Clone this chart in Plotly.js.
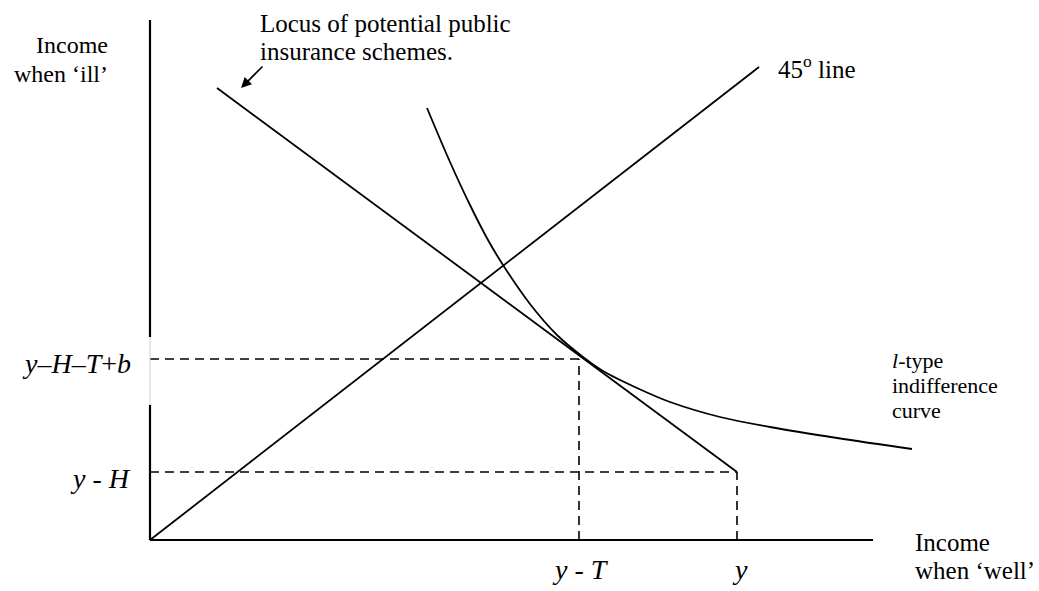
<!DOCTYPE html>
<html>
<head>
<meta charset="utf-8">
<script src="https://cdn.plot.ly/plotly-3.0.1.min.js"></script>
<style>html,body{margin:0;padding:0;background:#fff;}#chart{width:1039px;height:591px;}</style>
</head>
<body>
<div id="chart"></div>
<script>
// Diagram values (income when well on x, income when ill on y)
const yWell = 587;          // y
const yMinusT = 429;        // y - T
const yMinusH = 68;         // y - H
const yHTb = 181;           // y-H-T+b

const locusX = [67, 587];
const locusY = [452, 68];

const line45X = [0, 609];
const line45Y = [0, 473];

const icX = [277, 300, 320, 338, 353, 380, 407, 433, 453, 487, 520, 570, 620, 687, 762];
const icY = [432, 378, 335, 300, 275, 236, 205, 183, 169, 152, 138, 123, 113, 102, 91];

const xAxisX = [0, 723];
const xAxisY = [0, 0];
const yAxisLowX = [0, 0],  yAxisLowY = [0, 135];
const yAxisGapX = [0, 0],  yAxisGapY = [135, 203];
const yAxisHighX = [0, 0], yAxisHighY = [203, 520];

const FONT = "Liberation Serif";
const solid = {color: "#000", width: 1.8};
const dashed = {color: "#000", width: 1.6, dash: "9px,6px"};

function seg(x, y, line) {
  return {x: x, y: y, mode: "lines", type: "scatter", line: line, hoverinfo: "skip", showlegend: false, cliponaxis: false};
}

const traces = [
  seg([0, yMinusT], [yHTb, yHTb], dashed),
  seg([yMinusT, yMinusT], [0, yHTb], dashed),
  seg([0, yWell], [yMinusH, yMinusH], dashed),
  seg([yWell, yWell], [0, yMinusH], dashed),
  seg(xAxisX, xAxisY, {color: "#000", width: 2.2}),
  seg(yAxisLowX, yAxisLowY, {color: "#000", width: 2.2}),
  seg(yAxisGapX, yAxisGapY, {color: "#d0d0d0", width: 1}),
  seg(yAxisHighX, yAxisHighY, {color: "#000", width: 2.2}),
  seg(line45X, line45Y, solid),
  seg(locusX, locusY, solid),
  {x: icX, y: icY, mode: "lines", type: "scatter", line: {color: "#000", width: 1.8, shape: "spline", smoothing: 1}, hoverinfo: "skip", showlegend: false}
];

// page pixel -> paper fraction (plot area: left 145, width 855; bottom 545, height 535)
const px = p => (p - 145) / 855;
const py = p => (545 - p) / 535;

function txt(text, x, y, size, xanchor) {
  return {text: text, x: px(x), y: py(y), xref: "paper", yref: "paper", showarrow: false,
          xanchor: xanchor, yanchor: "middle", font: {family: FONT, size: size, color: "#000"}};
}

const annotations = [
  txt("Income", 110, 45, 24, "right"),
  txt("when \u2018ill\u2019", 110, 74, 24, "right"),
  txt("Locus of potential public", 258, 24, 25, "left"),
  txt("insurance schemes.", 258, 51, 25, "left"),
  txt("45<sup>o</sup> line", 776, 67, 25, "left"),
  txt("<i>y</i>\u2013<i>H</i>\u2013<i>T</i>+<i>b</i>", 133, 364, 28, "right"),
  txt("<i>y</i> - <i>H</i>", 133, 478, 28, "right"),
  txt("<i>y</i> - <i>T</i>", 580, 569, 28, "center"),
  txt("<i>y</i>", 740, 569, 28, "center"),
  txt("Income", 913, 542, 25, "left"),
  txt("when \u2018well\u2019", 913, 570, 25, "left"),
  txt("<i>l</i>-type", 890, 360, 22, "left"),
  txt("indifference", 890, 385, 22, "left"),
  txt("curve", 890, 410, 22, "left"),
  {x: px(241), y: py(88), ax: px(264), ay: py(65), xref: "paper", yref: "paper", axref: "paper", ayref: "paper",
   showarrow: true, arrowhead: 2, arrowsize: 1.3, arrowwidth: 1.6, arrowcolor: "#000", text: ""}
];

const layout = {
  width: 1039, height: 591,
  margin: {l: 145, r: 39, t: 10, b: 46, pad: 0},
  paper_bgcolor: "#fff", plot_bgcolor: "#fff",
  font: {family: FONT, color: "#000"},
  xaxis: {range: [-5, 850], showgrid: false, zeroline: false, showline: false, showticklabels: false, ticks: "", fixedrange: true},
  yaxis: {range: [-5, 530], showgrid: false, zeroline: false, showline: false, showticklabels: false, ticks: "", fixedrange: true},
  annotations: annotations,
  showlegend: false
};

Plotly.newPlot("chart", traces, layout, {displayModeBar: false, staticPlot: true});
</script>
</body>
</html>
